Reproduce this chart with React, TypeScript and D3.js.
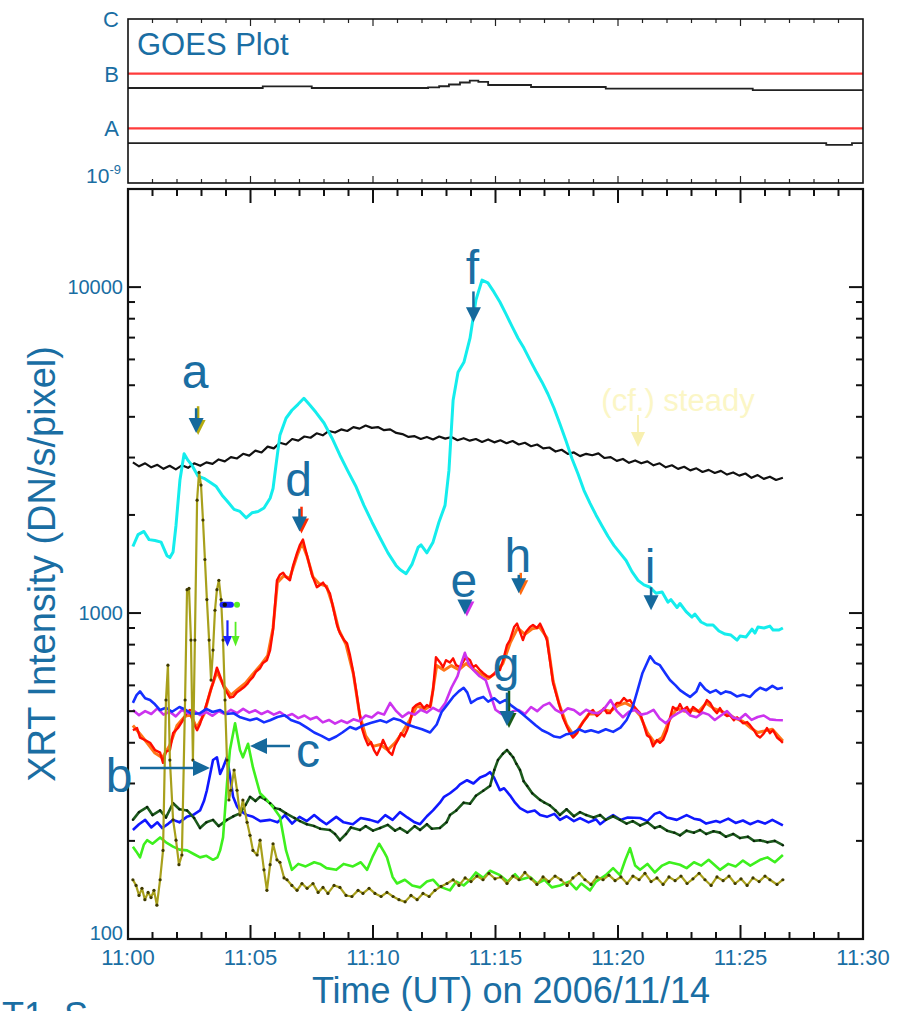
import React from 'react';
import * as d3 from 'd3';

const W = 899;
const H = 1011;
const FONT = "'Liberation Sans', Arial, Helvetica, sans-serif";
const BLUE_TXT = '#1a6ea3';

// time in minutes after 11:00 UT
const xTickLabels = ['11:00', '11:05', '11:10', '11:15', '11:20', '11:25', '11:30'];
const yTickValues = [100, 1000, 10000];
const goesLevels: [string, number][] = [['C', 1e-6], ['B', 1e-7], ['A', 1e-8]];

// GOES flux (W/m^2)
const goesHigh: [number, number][] = [[0, 5.47e-8], [5.5, 5.85e-8], [7.5, 5.47e-8], [12.25, 5.6e-8], [12.7, 5.88e-8], [13.1, 6.34e-8], [13.55, 6.9e-8], [13.95, 7.44e-8], [14.3, 7.1e-8], [14.7, 6.21e-8], [16.45, 5.7e-8], [19.5, 5.31e-8], [25.5, 4.98e-8], [30, 4.98e-8]];
const goesLow: [number, number][] = [[0, 5.35e-9], [28.5, 4.98e-9], [29.55, 5.35e-9], [30, 5.35e-9]];

// XRT intensity (DN/s/pixel)
const steady: [number, number][] = [[0.2,2900],[0.45,2820],[0.7,2880],[0.95,2800],[1.2,2850],[1.45,2770],[1.7,2830],[1.95,2760],[2.2,2840],[2.45,2790],[2.7,2880],[2.95,2830],[3.2,2900],[3.45,2870],[3.7,2960],[3.95,2920],[4.2,3010],[4.45,2980],[4.7,3080],[4.95,3040],[5.2,3150],[5.45,3110],[5.7,3240],[5.95,3200],[6.2,3330],[6.45,3290],[6.7,3420],[6.95,3380],[7.2,3480],[7.45,3450],[7.7,3560],[7.95,3510],[8.2,3620],[8.45,3580],[8.7,3660],[8.95,3620],[9.2,3720],[9.45,3680],[9.7,3760],[9.95,3700],[10.2,3720],[10.45,3640],[10.7,3660],[10.95,3570],[11.2,3540],[11.45,3470],[11.7,3490],[11.95,3420],[12.2,3470],[12.45,3410],[12.7,3480],[12.95,3430],[13.2,3470],[13.45,3390],[13.7,3440],[13.95,3380],[14.2,3420],[14.45,3350],[14.7,3410],[14.95,3340],[15.2,3390],[15.45,3320],[15.7,3370],[15.95,3290],[16.2,3330],[16.45,3250],[16.7,3290],[16.95,3200],[17.2,3220],[17.45,3130],[17.7,3170],[17.95,3080],[18.2,3110],[18.45,3030],[18.7,3080],[18.95,3050],[19.2,3090],[19.45,2990],[19.7,3010],[19.95,2930],[20.2,2970],[20.45,2890],[20.7,2940],[20.95,2880],[21.2,2920],[21.45,2840],[21.7,2880],[21.95,2800],[22.2,2840],[22.45,2770],[22.7,2810],[22.95,2740],[23.2,2780],[23.45,2710],[23.7,2750],[23.95,2690],[24.2,2730],[24.45,2660],[24.7,2700],[24.95,2640],[25.2,2680],[25.45,2600],[25.7,2650],[25.95,2580],[26.2,2620],[26.45,2560],[26.73,2600]];

const cyanF: [number, number][] = [[0.2,1600],[0.41,1740],[0.65,1780],[0.86,1680],[1.1,1670],[1.35,1650],[1.59,1500],[1.71,1480],[1.84,1540],[1.96,1860],[2.12,2560],[2.29,3080],[2.45,2940],[2.61,2840],[2.86,2630],[3.1,2590],[3.35,2520],[3.59,2450],[3.84,2300],[4.08,2190],[4.33,2080],[4.57,2050],[4.82,1960],[5.06,2030],[5.31,2050],[5.55,2100],[5.8,2250],[5.92,2410],[6.04,2840],[6.2,3510],[6.45,3960],[6.69,4190],[6.94,4370],[7.18,4560],[7.43,4340],[7.67,4130],[8.0,3830],[8.33,3440],[8.65,3050],[8.98,2720],[9.31,2440],[9.63,2140],[9.96,1900],[10.29,1700],[10.61,1530],[10.94,1400],[11.1,1360],[11.35,1320],[11.59,1410],[11.84,1590],[11.96,1620],[12.2,1530],[12.45,1650],[12.69,1900],[12.94,2140],[13.1,2740],[13.27,4500],[13.47,5480],[13.71,5880],[13.96,6970],[14.2,9120],[14.45,10510],[14.69,10300],[14.94,9650],[15.18,9000],[15.43,8260],[15.67,7590],[15.92,6970],[16.16,6500],[16.41,5970],[16.65,5520],[16.9,5110],[17.14,4700],[17.39,4250],[17.63,3800],[17.88,3370],[18.12,2980],[18.37,2670],[18.61,2380],[18.86,2170],[19.1,2000],[19.35,1850],[19.59,1720],[19.84,1610],[20.08,1530],[20.33,1450],[20.57,1340],[20.82,1260],[21.06,1220],[21.31,1200],[21.55,1150],[21.8,1160],[22.04,1080],[22.16,1100],[22.41,1040],[22.53,1070],[22.78,1010],[23.02,972],[23.14,993],[23.39,939],[23.63,919],[23.88,919],[24.12,881],[24.37,862],[24.61,856],[24.86,826],[24.98,850],[25.22,844],[25.47,893],[25.59,868],[25.71,906],[25.96,900],[26.2,912],[26.33,887],[26.57,887],[26.73,900]];

const redDH: [number, number][] = [[0.2,437],[0.37,444],[0.49,415],[0.69,408],[0.9,400],[1.1,380],[1.31,373],[1.43,347],[1.55,376],[1.71,380],[1.84,428],[2.04,444],[2.24,469],[2.41,496],[2.53,504],[2.65,463],[2.82,437],[2.94,457],[3.1,497],[3.22,530],[3.35,572],[3.47,610],[3.63,680],[3.76,640],[3.92,590],[4.04,570],[4.16,550],[4.29,553],[4.45,572],[4.57,580],[4.73,592],[4.86,605],[4.98,623],[5.1,636],[5.22,660],[5.39,677],[5.51,703],[5.67,717],[5.8,770],[5.92,887],[6.08,1260],[6.2,1310],[6.33,1330],[6.45,1290],[6.61,1260],[6.73,1390],[6.9,1530],[7.02,1620],[7.14,1680],[7.22,1590],[7.35,1460],[7.51,1310],[7.71,1200],[7.84,1220],[7.96,1240],[8.12,1190],[8.24,1150],[8.41,1010],[8.53,919],[8.65,868],[8.82,826],[8.94,807],[9.06,743],[9.18,668],[9.31,580],[9.43,504],[9.55,443],[9.67,414],[9.8,393],[9.92,402],[10.04,380],[10.16,367],[10.29,385],[10.41,408],[10.53,390],[10.65,375],[10.78,367],[10.9,393],[11.02,408],[11.14,428],[11.27,418],[11.39,437],[11.51,463],[11.63,511],[11.76,522],[11.92,530],[12.08,511],[12.2,522],[12.33,515],[12.45,580],[12.57,732],[12.73,707],[12.86,682],[12.98,717],[13.14,705],[13.27,726],[13.39,692],[13.55,682],[13.67,707],[13.8,732],[13.96,717],[14.08,682],[14.2,692],[14.37,668],[14.49,655],[14.65,641],[14.78,636],[14.94,650],[15.06,668],[15.18,668],[15.31,717],[15.47,797],[15.59,826],[15.76,906],[15.88,928],[16.0,875],[16.12,826],[16.24,875],[16.41,906],[16.53,919],[16.69,900],[16.82,928],[16.94,887],[17.1,826],[17.22,717],[17.35,610],[17.51,553],[17.63,515],[17.76,476],[17.92,447],[18.04,428],[18.16,415],[18.33,428],[18.45,447],[18.57,463],[18.73,479],[18.86,497],[18.98,504],[19.14,483],[19.27,493],[19.43,511],[19.55,493],[19.67,493],[19.84,518],[19.96,530],[20.08,530],[20.24,549],[20.37,537],[20.49,541],[20.65,518],[20.78,504],[20.9,493],[21.02,463],[21.18,422],[21.31,415],[21.43,390],[21.59,408],[21.71,400],[21.84,408],[22.0,437],[22.12,476],[22.24,515],[22.41,504],[22.53,526],[22.65,504],[22.82,515],[22.94,493],[23.06,515],[23.22,504],[23.35,493],[23.51,518],[23.63,541],[23.76,530],[23.92,504],[24.04,493],[24.16,511],[24.29,493],[24.45,483],[24.57,486],[24.73,469],[24.86,479],[24.98,469],[25.1,459],[25.27,463],[25.39,453],[25.55,437],[25.67,422],[25.8,415],[25.96,428],[26.08,444],[26.2,428],[26.33,437],[26.49,415],[26.61,408],[26.73,400]];

const orangeDH: [number, number][] = [[0.2,452],[0.5,425],[0.8,398],[1.1,372],[1.4,360],[1.7,392],[2.0,452],[2.3,480],[2.55,490],[2.8,445],[3.1,488],[3.4,590],[3.63,660],[3.9,600],[4.2,560],[4.5,585],[4.8,610],[5.1,650],[5.4,690],[5.7,740],[5.92,900],[6.1,1240],[6.35,1300],[6.6,1280],[6.9,1500],[7.1,1640],[7.3,1500],[7.55,1290],[7.8,1230],[8.1,1210],[8.35,1060],[8.6,890],[8.9,800],[9.2,650],[9.45,490],[9.7,420],[10.0,390],[10.3,395],[10.6,380],[10.9,400],[11.2,430],[11.5,470],[11.8,520],[12.1,505],[12.35,520],[12.6,690],[12.9,668],[13.2,690],[13.5,670],[13.8,700],[14.1,672],[14.4,650],[14.7,630],[15.0,655],[15.3,700],[15.6,810],[15.9,900],[16.2,860],[16.5,895],[16.8,905],[17.1,840],[17.35,620],[17.6,525],[17.9,455],[18.2,420],[18.5,455],[18.8,490],[19.1,490],[19.4,505],[19.7,500],[20.0,520],[20.3,530],[20.6,515],[20.9,485],[21.2,430],[21.5,400],[21.8,415],[22.1,470],[22.4,510],[22.7,500],[23.0,505],[23.3,500],[23.6,530],[23.9,510],[24.2,500],[24.5,490],[24.8,475],[25.1,465],[25.4,445],[25.7,430],[26.0,435],[26.3,440],[26.6,415],[26.73,405]];

const magentaE: [number, number][] = [[0.2,504],[0.45,486],[0.7,500],[0.95,490],[1.2,510],[1.45,488],[1.7,498],[1.95,482],[2.2,505],[2.45,492],[2.7,500],[2.95,486],[3.2,497],[3.45,484],[3.7,500],[3.95,490],[4.2,505],[4.45,493],[4.7,508],[4.95,495],[5.2,503],[5.45,490],[5.7,500],[5.95,488],[6.2,497],[6.45,482],[6.7,490],[6.95,476],[7.2,485],[7.45,472],[7.7,480],[7.95,462],[8.2,470],[8.45,458],[8.7,468],[8.95,460],[9.2,472],[9.45,466],[9.7,485],[9.95,478],[10.2,495],[10.45,488],[10.7,530],[10.95,500],[11.2,480],[11.45,495],[11.7,488],[11.95,505],[12.2,495],[12.45,512],[12.7,500],[12.95,530],[13.2,590],[13.45,640],[13.6,700],[13.75,755],[13.9,700],[14.1,668],[14.35,640],[14.6,623],[14.8,560],[15.0,505],[15.2,493],[15.45,480],[15.7,500],[15.95,504],[16.2,490],[16.45,515],[16.7,500],[16.95,520],[17.2,530],[17.45,505],[17.7,493],[17.95,510],[18.2,504],[18.45,488],[18.7,505],[18.95,495],[19.2,493],[19.45,510],[19.7,541],[19.95,500],[20.2,479],[20.45,498],[20.7,504],[20.95,488],[21.2,493],[21.45,505],[21.7,475],[21.95,459],[22.2,480],[22.45,493],[22.7,505],[22.95,485],[23.2,479],[23.45,495],[23.7,488],[23.95,470],[24.2,485],[24.45,500],[24.7,478],[24.95,472],[25.2,490],[25.45,470],[25.7,480],[25.95,485],[26.2,472],[26.45,470],[26.73,469]];

const blueI: [number, number][] = [[0.2,530],[0.35,560],[0.49,575],[0.7,548],[0.9,541],[1.1,525],[1.31,504],[1.55,512],[1.8,498],[2.1,515],[2.35,505],[2.6,490],[2.94,493],[3.2,508],[3.45,497],[3.76,504],[4.0,490],[4.3,493],[4.55,480],[4.98,469],[5.25,475],[5.55,462],[5.8,469],[6.1,480],[6.4,486],[6.65,470],[7.02,459],[7.3,445],[7.6,430],[7.9,420],[8.2,408],[8.5,418],[8.75,430],[9.06,447],[9.3,440],[9.6,452],[9.9,460],[10.3,469],[10.55,462],[10.85,475],[11.1,469],[11.4,455],[11.7,447],[12.0,440],[12.33,430],[12.6,455],[12.8,497],[13.0,520],[13.27,553],[13.5,575],[13.7,590],[13.85,570],[14.0,530],[14.25,545],[14.5,553],[14.7,535],[14.95,548],[15.18,530],[15.4,541],[15.65,520],[15.9,504],[16.1,490],[16.4,469],[16.65,452],[16.9,437],[17.15,428],[17.4,418],[17.63,415],[17.9,425],[18.16,428],[18.4,440],[18.65,432],[18.9,437],[19.2,430],[19.5,440],[19.8,432],[20.1,445],[20.35,470],[20.6,515],[20.8,580],[21.0,655],[21.31,737],[21.5,705],[21.71,692],[21.95,650],[22.12,623],[22.35,600],[22.53,580],[22.75,565],[22.94,553],[23.2,575],[23.35,610],[23.55,585],[23.76,570],[24.0,580],[24.2,565],[24.4,575],[24.6,570],[24.85,555],[25.1,562],[25.39,553],[25.6,575],[25.8,590],[26.05,580],[26.3,598],[26.5,585],[26.73,590]];

const blueB: [number, number][] = [[0.2,216],[0.45,225],[0.7,232],[0.95,220],[1.2,228],[1.4,219],[1.65,226],[1.84,232],[2.1,228],[2.4,237],[2.65,240],[2.94,248],[3.1,265],[3.22,286],[3.47,354],[3.63,361],[3.76,321],[3.88,336],[4.04,361],[4.16,318],[4.29,273],[4.45,255],[4.57,248],[4.85,240],[5.1,237],[5.4,230],[5.8,232],[6.1,228],[6.4,240],[6.7,226],[7.0,237],[7.3,230],[7.6,240],[7.84,232],[8.1,225],[8.5,237],[8.8,228],[9.18,225],[9.5,235],[9.88,232],[10.2,228],[10.5,240],[10.8,232],[11.1,245],[11.4,236],[11.7,228],[11.92,225],[12.2,238],[12.45,248],[12.73,262],[12.9,273],[13.14,280],[13.4,290],[13.55,298],[13.84,307],[14.1,300],[14.37,313],[14.6,318],[14.78,325],[14.94,313],[15.18,286],[15.35,290],[15.59,276],[15.8,262],[16.0,252],[16.3,245],[16.6,248],[16.82,240],[17.1,237],[17.4,242],[17.63,232],[17.9,238],[18.2,230],[18.45,235],[18.8,228],[19.1,233],[19.27,225],[19.6,235],[19.8,240],[20.1,232],[20.4,236],[20.9,235],[21.2,230],[21.5,242],[21.7,245],[22.0,236],[22.4,232],[22.8,240],[23.1,234],[23.35,232],[23.6,226],[24.0,230],[24.16,228],[24.5,234],[24.8,227],[25.1,231],[25.39,225],[25.7,230],[26.0,226],[26.3,232],[26.73,223]];

const darkGreenG: [number, number][] = [[0.2,232],[0.45,245],[0.78,254],[1.0,240],[1.31,248],[1.55,236],[1.84,261],[2.1,250],[2.41,248],[2.7,235],[2.94,219],[3.2,228],[3.47,232],[3.7,222],[4.04,232],[4.3,238],[4.57,243],[4.8,258],[4.98,273],[5.2,265],[5.39,273],[5.6,268],[5.8,261],[6.0,252],[6.2,250],[6.45,243],[6.8,235],[7.02,230],[7.3,225],[7.6,222],[7.84,218],[8.24,216],[8.45,210],[8.65,201],[8.9,210],[9.1,220],[9.47,216],[9.7,222],[10.0,215],[10.29,219],[10.6,224],[10.9,215],[11.1,219],[11.4,212],[11.7,222],[11.92,216],[12.2,225],[12.4,218],[12.73,219],[13.0,228],[13.14,240],[13.4,248],[13.7,262],[13.96,260],[14.2,275],[14.5,285],[14.78,295],[14.95,330],[15.1,354],[15.3,370],[15.47,380],[15.6,370],[15.72,361],[15.85,345],[16.0,330],[16.15,305],[16.29,295],[16.5,280],[16.82,267],[17.0,262],[17.22,257],[17.45,248],[17.63,240],[17.9,250],[18.2,238],[18.45,245],[18.7,240],[19.0,236],[19.27,240],[19.5,232],[19.8,238],[20.08,232],[20.35,226],[20.6,230],[20.9,223],[21.2,228],[21.5,219],[21.71,222],[22.0,215],[22.3,212],[22.53,208],[22.8,215],[23.1,212],[23.35,216],[23.6,210],[23.9,214],[24.16,212],[24.4,206],[24.7,210],[24.98,204],[25.3,206],[25.55,200],[25.8,201],[26.1,198],[26.4,200],[26.73,194]];

const greenC: [number, number][] = [[0.2,192],[0.35,185],[0.49,178],[0.65,195],[0.78,201],[1.0,196],[1.31,205],[1.55,198],[1.84,192],[2.1,188],[2.41,187],[2.7,182],[2.94,178],[3.2,180],[3.47,175],[3.65,178],[3.76,187],[3.88,205],[4.04,300],[4.16,380],[4.37,459],[4.57,380],[4.69,361],[4.9,397],[5.1,336],[5.39,280],[5.67,267],[5.92,254],[6.2,237],[6.45,187],[6.69,163],[6.95,170],[7.25,167],[7.6,172],[7.84,170],[8.1,165],[8.5,163],[8.8,170],[9.18,167],[9.5,172],[9.76,163],[10.0,180],[10.25,196],[10.45,185],[10.57,178],[10.8,155],[10.98,148],[11.3,152],[11.6,146],[11.92,144],[12.2,150],[12.45,152],[12.7,145],[13.14,141],[13.4,150],[13.7,146],[13.96,152],[14.2,160],[14.5,154],[14.78,162],[15.18,157],[15.5,150],[15.8,158],[16.0,152],[16.41,155],[16.7,148],[17.0,152],[17.3,144],[17.63,146],[18.0,150],[18.3,142],[18.5,148],[18.86,141],[19.1,150],[19.5,157],[19.8,165],[20.08,157],[20.3,175],[20.49,190],[20.7,168],[20.9,163],[21.2,170],[21.5,160],[21.8,168],[22.1,172],[22.53,169],[22.8,165],[23.1,172],[23.4,168],[23.7,175],[24.16,163],[24.5,170],[24.8,167],[25.1,174],[25.4,168],[25.8,175],[26.1,178],[26.4,172],[26.73,181]];

const oliveA: [number, number][] = [[0.2,152],[0.33,146],[0.45,136],[0.57,143],[0.69,132],[0.82,139],[0.94,134],[1.06,141],[1.18,127],[1.31,152],[1.43,187],[1.55,541],[1.63,692],[1.71,354],[1.84,232],[1.96,201],[2.08,169],[2.2,181],[2.33,541],[2.41,1180],[2.49,1190],[2.57,826],[2.65,354],[2.73,826],[2.82,2220],[2.9,2700],[2.98,2470],[3.06,1930],[3.14,1460],[3.22,1100],[3.31,826],[3.39,623],[3.47,770],[3.55,1020],[3.63,1180],[3.71,1260],[3.8,1100],[3.88,826],[3.96,541],[4.04,354],[4.12,267],[4.2,286],[4.33,330],[4.45,286],[4.57,240],[4.69,267],[4.86,228],[4.98,208],[5.1,187],[5.27,181],[5.39,201],[5.55,163],[5.67,141],[5.8,169],[5.92,196],[6.08,175],[6.2,172],[6.37,154],[6.49,152],[6.69,146],[6.9,141],[7.1,148],[7.31,143],[7.55,148],[7.76,139],[7.96,144],[8.16,138],[8.41,146],[8.65,144],[8.9,136],[9.14,135],[9.39,141],[9.59,138],[9.84,143],[10.08,138],[10.33,135],[10.57,139],[10.82,135],[11.06,132],[11.31,130],[11.55,136],[11.8,132],[12.04,138],[12.29,135],[12.53,141],[12.78,145],[13.02,148],[13.27,152],[13.51,146],[13.76,154],[14.0,150],[14.24,156],[14.49,152],[14.73,159],[14.98,153],[15.22,155],[15.47,148],[15.71,156],[15.96,152],[16.2,160],[16.45,153],[16.69,147],[16.94,155],[17.18,150],[17.43,156],[17.67,152],[17.92,146],[18.16,154],[18.41,159],[18.65,152],[18.9,147],[19.14,155],[19.39,152],[19.63,157],[19.88,151],[20.12,155],[20.37,148],[20.61,156],[20.86,152],[21.1,159],[21.35,150],[21.59,154],[21.84,147],[22.08,155],[22.33,151],[22.57,156],[22.82,148],[23.06,153],[23.31,159],[23.55,152],[23.8,146],[24.04,155],[24.29,151],[24.53,156],[24.78,148],[25.02,153],[25.27,146],[25.51,154],[25.76,150],[26.0,156],[26.2,152],[26.49,147],[26.73,152]];

// annotations: label, time (min), label-baseline value, arrow-top value, arrow-tip value
const vArrows: { label: string; t: number; textV: number; topV: number; tipV: number; shadow?: string }[] = [
  { label: 'a', t: 2.78, textV: 4900, topV: 4250, tipV: 3570, shadow: '#b5ab10' },
  { label: 'd', t: 7.0, textV: 2290, topV: 2090, tipV: 1780, shadow: '#ff2a00' },
  { label: 'f', t: 14.1, textV: 10200, topV: 9700, tipV: 7800 },
  { label: 'e', t: 13.75, textV: 1120, topV: 1080, tipV: 990, shadow: '#d030e8' },
  { label: 'h', t: 15.95, textV: 1340, topV: 1310, tipV: 1150, shadow: '#ff6a10' },
  { label: 'i', t: 21.35, textV: 1240, topV: 1200, tipV: 1020 },
  { label: 'g', t: 15.47, textV: 620, topV: 570, tipV: 450, shadow: '#1a5c1a' }
];

export default function App() {
  const x = d3.scaleLinear().domain([0, 30]).range([128, 863]);
  const y = d3.scaleLog().domain([100, 20000]).range([939, 189]);
  const yg = d3.scaleLog().domain([1e-9, 1e-6]).range([183, 19]);

  const line = d3.line<[number, number]>().x(d => x(d[0])).y(d => y(d[1]));
  const gline = d3.line<[number, number]>().x(d => x(d[0])).y(d => yg(d[1])).curve(d3.curveStepAfter);

  const minutes = d3.range(0, 31);
  const minorY: number[] = [];
  yTickValues.forEach(dec => {
    for (let m = 2; m <= 9; m++) {
      const v = dec * m;
      if (v <= 20000) minorY.push(v);
    }
  });

  const series: { data: [number, number][]; color: string; w: number }[] = [
    { data: steady, color: '#111', w: 2.2 },
    { data: cyanF, color: '#14eded', w: 3 },
    { data: orangeDH, color: '#ff7518', w: 3 },
    { data: redDH, color: '#ff0d00', w: 2.4 },
    { data: magentaE, color: '#cc33ee', w: 2.6 },
    { data: blueI, color: '#1530ff', w: 2.6 },
    { data: blueB, color: '#1018ff', w: 2.6 },
    { data: darkGreenG, color: '#1c5a1c', w: 2.6 },
    { data: greenC, color: '#3ef01e', w: 2.6 }
  ];

  const downArrow = (cx: number, top: number, tip: number, color: string, key: string) => (
    <g key={key}>
      <line x1={cx} y1={top} x2={cx} y2={tip - 12} stroke={color} strokeWidth={2.5} />
      <polygon points={`${cx - 7.5},${tip - 15} ${cx + 7.5},${tip - 15} ${cx},${tip}`} fill={color} />
    </g>
  );

  return (
    <svg width={W} height={H} style={{ position: 'absolute', left: 0, top: 0, display: 'block', background: '#fff' }} fontFamily={FONT}>
      <rect x={0} y={0} width={W} height={H} fill="#fff" />

      {/* ---------- GOES panel ---------- */}
      <g>
        {goesLevels.map(([lab, v]) => (
          <line key={'r' + lab} x1={x(0)} x2={x(30)} y1={yg(v)} y2={yg(v)} stroke={lab === 'C' ? 'none' : '#ff3b3b'} strokeWidth={2.2} />
        ))}
        <path d={gline(goesHigh) || ''} fill="none" stroke="#222" strokeWidth={1.8} />
        <path d={gline(goesLow) || ''} fill="none" stroke="#222" strokeWidth={1.8} />
        {minutes.filter(t => t > 0 && t < 30).map(t => {
          const len = t % 5 === 0 ? 7 : 4;
          return (
            <g key={'gt' + t}>
              <line x1={x(t)} x2={x(t)} y1={yg(1e-6)} y2={yg(1e-6) + len} stroke="#222" strokeWidth={1.2} />
              <line x1={x(t)} x2={x(t)} y1={yg(1e-9)} y2={yg(1e-9) - len} stroke="#222" strokeWidth={1.2} />
            </g>
          );
        })}
        <rect x={x(0)} y={yg(1e-6)} width={x(30) - x(0)} height={yg(1e-9) - yg(1e-6)} fill="none" stroke="#111" strokeWidth={1.6} />
        {goesLevels.map(([lab, v]) => (
          <text key={'gl' + lab} x={119} y={yg(v) + 8} textAnchor="end" fontSize={22} fill={BLUE_TXT}>{lab}</text>
        ))}
        <text x={121} y={yg(1e-9)} textAnchor="end" fontSize={21} fill={BLUE_TXT}>
          10<tspan fontSize={13} dy={-9}>-9</tspan>
        </text>
        <text x={137} y={55} fontSize={31} fill={BLUE_TXT}>GOES Plot</text>
      </g>

      {/* ---------- XRT panel ---------- */}
      <g>
        {series.map((s, i) => (
          <path key={'s' + i} d={line(s.data) || ''} fill="none" stroke={s.color} strokeWidth={s.w} strokeLinejoin="round" />
        ))}
        {darkGreenG.map((d, i) => (
          <circle key={'dg' + i} cx={x(d[0])} cy={y(d[1])} r={1.2} fill="#0a200a" />
        ))}
        <path d={line(oliveA) || ''} fill="none" stroke="#a8a01c" strokeWidth={2.2} strokeLinejoin="round" />
        {oliveA.map((d, i) => (
          <circle key={'ol' + i} cx={x(d[0])} cy={y(d[1])} r={1.6} fill="#3f3a00" />
        ))}

        {/* frame & ticks */}
        <rect x={x(0)} y={y(20000)} width={x(30) - x(0)} height={y(100) - y(20000)} fill="none" stroke="#111" strokeWidth={2.2} />
        {minutes.map(t => {
          const len = t % 5 === 0 ? 14 : 7;
          return (
            <g key={'xt' + t}>
              <line x1={x(t)} x2={x(t)} y1={y(100)} y2={y(100) - len} stroke="#111" strokeWidth={2} />
              <line x1={x(t)} x2={x(t)} y1={y(20000)} y2={y(20000) + len} stroke="#111" strokeWidth={2} />
            </g>
          );
        })}
        {yTickValues.map(v => (
          <g key={'ym' + v}>
            <line x1={x(0)} x2={x(0) + 13} y1={y(v)} y2={y(v)} stroke="#111" strokeWidth={2} />
            <line x1={x(30)} x2={x(30) - 14} y1={y(v)} y2={y(v)} stroke="#111" strokeWidth={2} />
            <text x={123} y={v === 100 ? y(v) + 1 : y(v) + 7} textAnchor="end" fontSize={20} fill={BLUE_TXT}>{v}</text>
          </g>
        ))}
        {minorY.map(v => (
          <g key={'yn' + v}>
            <line x1={x(0)} x2={x(0) + 7} y1={y(v)} y2={y(v)} stroke="#111" strokeWidth={2} />
            <line x1={x(30)} x2={x(30) - 7} y1={y(v)} y2={y(v)} stroke="#111" strokeWidth={2} />
          </g>
        ))}
        {xTickLabels.map((lab, i) => (
          <text key={'xl' + i} x={x(i * 5)} y={965} textAnchor="middle" fontSize={22} fill={BLUE_TXT}>{lab}</text>
        ))}
        <text x={511} y={1003} textAnchor="middle" fontSize={36} fill={BLUE_TXT}>Time (UT) on 2006/11/14</text>
        <text transform="translate(55,564) rotate(-90)" textAnchor="middle" fontSize={38} fill={BLUE_TXT}>XRT Intensity  (DN/s/pixel)</text>

        {/* pale "(cf.) steady" note */}
        <text x={678} y={411} textAnchor="middle" fontSize={31} fill="#fbf6c6">(cf.) steady</text>
        <line x1={638} x2={638} y1={415} y2={436} stroke="#f8f0b0" strokeWidth={1.8} />
        <polygon points="631,432 645,432 638,447" fill="#f8f0b0" />

        {/* small colour markers near the b/c start */}
        <line x1={x(3.86)} x2={x(4.2)} y1={y(1060)} y2={y(1060)} stroke="#1a22ff" strokeWidth={6} strokeLinecap="round" />
        <circle cx={x(3.95)} cy={y(1060)} r={2.2} fill="#111" />
        <circle cx={x(4.45)} cy={y(1060)} r={3} fill="#55ee22" />
        <line x1={x(4.06)} x2={x(4.06)} y1={y(950)} y2={y(850)} stroke="#1a22ff" strokeWidth={2.2} />
        <polygon points={`${x(4.06) - 4.5},${y(850)} ${x(4.06) + 4.5},${y(850)} ${x(4.06)},${y(790)}`} fill="#1a22ff" />
        <line x1={x(4.39)} x2={x(4.39)} y1={y(940)} y2={y(850)} stroke="#55ee22" strokeWidth={1.8} />
        <polygon points={`${x(4.39) - 4},${y(850)} ${x(4.39) + 4},${y(850)} ${x(4.39)},${y(790)}`} fill="#55ee22" />

        {/* labelled arrows */}
        {vArrows.map(a => {
          const cx = x(a.t);
          return (
            <g key={'va' + a.label}>
              {a.shadow ? downArrow(cx + 2, y(a.topV) - 2, y(a.tipV) + 2, a.shadow, 'sh') : null}
              {downArrow(cx, y(a.topV), y(a.tipV), '#15699c', 'ar')}
              <text x={cx - 1} y={y(a.textV)} textAnchor="middle" fontSize={48} fill={BLUE_TXT}>{a.label}</text>
            </g>
          );
        })}
        {/* b arrow (points right) */}
        <line x1={140} x2={196} y1={768} y2={768} stroke="#15699c" strokeWidth={2.5} />
        <polygon points="193,760 193,776 210,768" fill="#15699c" />
        <text x={119} y={792} textAnchor="middle" fontSize={48} fill={BLUE_TXT}>b</text>
        {/* c arrow (points left) */}
        <line x1={290} x2={264} y1={746} y2={746} stroke="#15699c" strokeWidth={2.5} />
        <polygon points="267,738 267,754 250,746" fill="#15699c" />
        <text x={308} y={767} textAnchor="middle" fontSize={48} fill={BLUE_TXT}>c</text>
      </g>

      {/* cut-off caption line at the bottom edge */}
      <text x={2} y={1028} fontSize={36} fill={BLUE_TXT}>T1. S</text>
    </svg>
  );
}
